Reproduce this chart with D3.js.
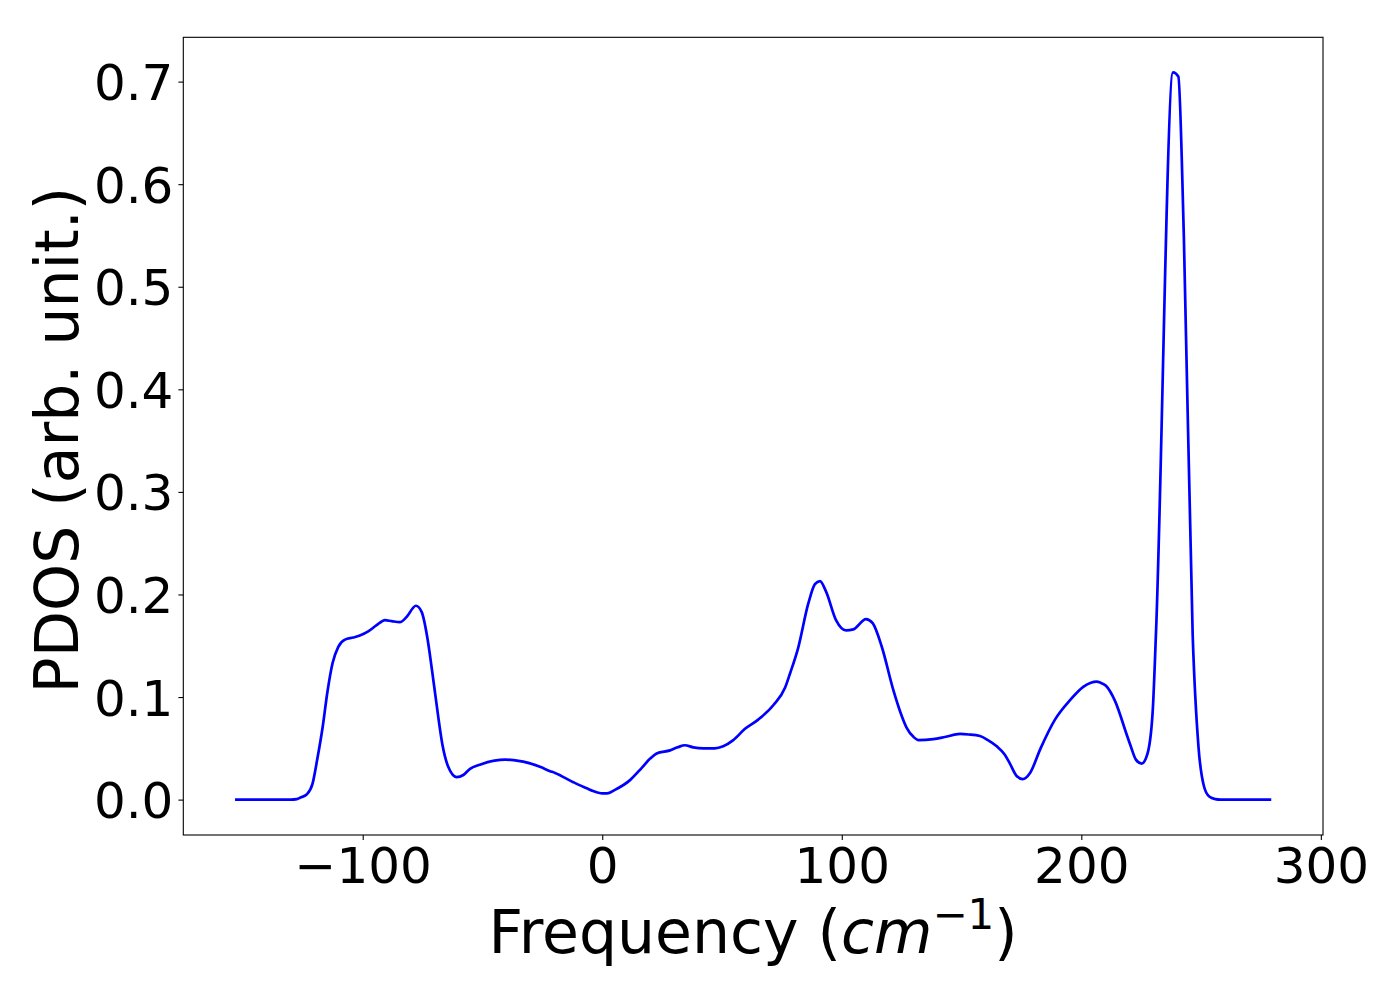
<!DOCTYPE html>
<html>
<head>
<meta charset="utf-8">
<script src="https://cdn.jsdelivr.net/npm/d3@7"></script>
<style>
  html, body { margin: 0; padding: 0; background: #fff; }
  text { font-family: "DejaVu Sans", sans-serif; fill: #000; }
</style>
</head>
<body>
<svg id="chart" width="1400" height="1000"></svg>
<script>
const freq = [-153.3, -130, -127.5, -126, -123.4, -121, -119, -116.7, -114.8, -112.6, -110.2, -107.4, -104, -101.2,
  -97.7, -94.2, -90.7, -87.9, -84.5, -81.7, -77.8, -75.4, -73.1, -71, -69.4, -66.6, -64.3, -60.8, -58, -55.2,
  -51.1, -45, -40.6, -37, -33, -26, -22, -19.7, -12.1, -6.5, -2, 0, 2, 5.3, 11.6, 16.5, 20, 22.7, 28.3, 31.5,
  34.5, 38, 42.2, 47, 50.5, 54.7, 59.6, 65.1, 71.4, 76.3, 78.4, 81.8, 86, 88.8, 90.9, 93.4, 97.6, 101.8, 104.8,
  110.1, 112.9, 116.7, 121.5, 124.5, 127.1, 130, 132, 138.2, 143, 149.4, 153, 157.7, 161, 164.7, 168, 170.2,
  173, 175.5, 178.6, 183, 189, 195.3, 200.8, 204, 206.4, 208, 210.3, 214.1, 219, 220.5, 222.8, 225.2, 227.6,
  229.8, 231.2, 238.3, 240.5, 242.8, 246.5, 248.9, 251.2, 253.4, 256, 258, 279.3];
const pdos = [0, 0, 0.0005, 0.002, 0.005, 0.015, 0.039, 0.071, 0.104, 0.133, 0.149, 0.156, 0.158, 0.160,
  0.164, 0.170, 0.175, 0.174, 0.173, 0.178, 0.189, 0.183, 0.159, 0.125, 0.097, 0.052, 0.032, 0.022, 0.024, 0.030,
  0.034, 0.038, 0.039, 0.0385, 0.037, 0.032, 0.028, 0.026, 0.017, 0.011, 0.007, 0.006, 0.006, 0.0095, 0.019, 0.031, 0.040, 0.045, 0.048, 0.051,
  0.053, 0.051, 0.050, 0.050, 0.052, 0.058, 0.069, 0.078, 0.092, 0.109, 0.123, 0.148, 0.191, 0.210, 0.213, 0.203, 0.175, 0.165, 0.166,
  0.176, 0.172, 0.149, 0.107, 0.085, 0.070, 0.061, 0.058, 0.059, 0.061, 0.064, 0.0635, 0.062, 0.058, 0.052, 0.044, 0.035,
  0.023, 0.020, 0.026, 0.050, 0.078, 0.097, 0.110, 0.114, 0.115, 0.114, 0.111, 0.096, 0.063, 0.053, 0.039, 0.035, 0.0445,
  0.086, 0.164, 0.709, 0.705, 0.55, 0.16, 0.052, 0.013, 0.003, 0.0005, 0, 0];
const xTicks = [-100, 0, 100, 200, 300];
const yTicks = [0.0, 0.1, 0.2, 0.3, 0.4, 0.5, 0.6, 0.7];

const svg = d3.select("#chart");
const L = 183.3, R = 1323, T = 37.3, B = 835;

const x = d3.scaleLinear().domain([-174.9, 300.9]).range([L, R]);
const y = d3.scaleLinear().domain([-0.0345, 0.7432]).range([B, T]);

svg.append("rect").attr("width", 1400).attr("height", 1000).attr("fill", "#fff");

// curve
const pts = freq.map((f, i) => [f, pdos[i]]);
const line = d3.line().x(d => x(d[0])).y(d => y(d[1])).curve(d3.curveMonotoneX);
svg.append("path").datum(pts).attr("d", line)
  .attr("fill", "none").attr("stroke", "#0000ff").attr("stroke-width", 2.7)
  .attr("stroke-linejoin", "round");

// frame
svg.append("rect").attr("x", L).attr("y", T).attr("width", R - L).attr("height", B - T)
  .attr("fill", "none").attr("stroke", "#000").attr("stroke-width", 1.1);

// x axis
const xAxis = d3.axisBottom(x).tickValues(xTicks).tickSize(4.9).tickPadding(0)
  .tickFormat(d3.format("d"));
const gx = svg.append("g").attr("transform", `translate(0,${B})`).call(xAxis);
gx.select(".domain").remove();
gx.selectAll(".tick line").attr("stroke", "#000").attr("stroke-width", 1.1);
gx.selectAll(".tick text").attr("font-size", 50).attr("font-family", "DejaVu Sans")
  .attr("dy", null).attr("y", 48);

// y axis
const yAxis = d3.axisLeft(y).tickValues(yTicks).tickSize(4.9).tickPadding(5)
  .tickFormat(d3.format(".1f"));
const gy = svg.append("g").attr("transform", `translate(${L},0)`).call(yAxis);
gy.select(".domain").remove();
gy.selectAll(".tick line").attr("stroke", "#000").attr("stroke-width", 1.1);
gy.selectAll(".tick text").attr("font-size", 50).attr("font-family", "DejaVu Sans")
  .attr("dy", "0.36em");

// x label
const xl = svg.append("text").attr("x", (L + R) / 2).attr("y", 953)
  .attr("text-anchor", "middle").attr("font-size", 60);
xl.append("tspan").text("Frequency (");
xl.append("tspan").attr("font-style", "italic").text("cm");
xl.append("tspan").attr("font-size", 42).attr("dy", -24).text("−1");
xl.append("tspan").attr("dy", 24).text(")");

// y label
svg.append("text").attr("transform", `translate(78,${(T + B) / 2 + 4}) rotate(-90)`)
  .attr("text-anchor", "middle").attr("font-size", 60).text("PDOS (arb. unit.)");
</script>
</body>
</html>
